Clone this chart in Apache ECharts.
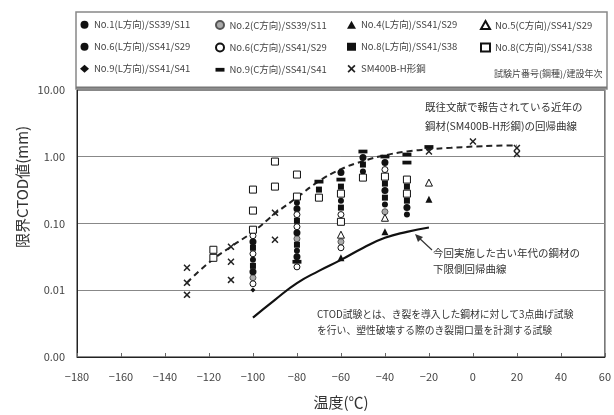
<!DOCTYPE html>
<html><head><meta charset="utf-8">
<script src="https://cdn.jsdelivr.net/npm/echarts@6/dist/echarts.min.js"></script>
<style>html,body{margin:0;padding:0;background:#fff}#c{width:614px;height:415px}</style>
</head><body><div id="c"></div>
<script>
const FONT = '"Noto Sans CJK JP","Noto Sans",sans-serif';

// legend names by column (rows top to bottom)
const legendCol1 = ['No.1(L方向)/SS39/S11', 'No.6(L方向)/SS41/S29', 'No.9(L方向)/SS41/S41'];
const legendCol2 = ['No.2(C方向)/SS39/S11', 'No.6(C方向)/SS41/S29', 'No.9(C方向)/SS41/S41'];
const legendCol3 = ['No.4(L方向)/SS41/S29', 'No.8(L方向)/SS41/S38', 'SM400B-H形鋼'];
const legendCol4 = ['No.5(C方向)/SS41/S29', 'No.8(C方向)/SS41/S38'];
const legendNote = '試験片番号(鋼種)/建設年次';

// measured points: [temperature ℃, critical CTOD mm]
const no1L = [[-100,0.0286],[-80,0.205],[-80,0.0391],[-60,0.22],[-50,0.60],[-40,0.192],[-30,0.136]];
const no2C = [[-100,0.0154],[-80,0.0591],[-60,0.0533],[-40,0.150]];
const no4L = [[-60,0.0306],[-40,0.0753],[-20,0.23]];
const no5C = [[-60,0.068],[-40,0.122],[-20,0.41]];
const no6L = [[-100,0.0533],[-100,0.0189],[-80,0.167],[-80,0.0728],[-80,0.0318],[-60,0.579],[-50,0.973],[-40,0.818],[-40,0.311],[-30,0.173]];
const no6C = [[-100,0.0656],[-100,0.0352],[-100,0.0125],[-80,0.136],[-80,0.0895],[-80,0.0224],[-60,0.136],[-60,0.0433],[-40,0.643]];
const no8L = [[-100,0.0433],[-100,0.0232],[-80,0.110],[-80,0.0481],[-70,0.322],[-60,0.357],[-60,0.173],[-50,0.764],[-40,0.396],[-40,0.244],[-30,0.357],[-30,0.22]];
const no8C = [[-118,0.0404],[-118,0.0306],[-100,0.322],[-100,0.156],[-100,0.0807],[-90,0.847],[-90,0.357],[-80,0.541],[-80,0.253],[-70,0.244],[-60,0.28],[-60,0.106],[-50,0.487],[-40,0.504],[-30,0.455],[-30,0.28]];
const no9L = [[-100,0.0101]];
const no9C = [[-80,0.0267],[-70,0.424],[-60,0.455],[-50,1.197],[-40,1.007],[-30,1.08],[-30,0.818],[-20,1.40]];
const sm400 = [[-130,0.0217],[-130,0.0129],[-130,0.00853],[-110,0.0449],[-110,0.0267],[-110,0.0143],[-90,0.145],[-90,0.0571],[-20,1.2],[0,1.69],[20,1.35],[20,1.1]];

// regression curves
const smFitT = [-130,-120,-110,-100,-90,-80,-70,-60,-50,-40,-30,-20,-10,0,10,20];
const smFitV = [0.013,0.026,0.045,0.075,0.14,0.245,0.43,0.65,0.86,1.05,1.2,1.29,1.36,1.42,1.46,1.48];
const lowFitT = [-100,-90,-80,-70,-60,-50,-40,-30,-20];
const lowFitV = [0.0039,0.0072,0.0128,0.0195,0.0285,0.043,0.061,0.075,0.087];

const XMARK = 'path://M0,1.5L1.5,0L5,3.5L8.5,0L10,1.5L6.5,5L10,8.5L8.5,10L5,6.5L1.5,10L0,8.5L3.5,5Z';
const BAR = 'path://M0,0H12V5H0Z';

function sc(name, data, symbol, size, fill, border) {
  return {
    type: 'scatter', name, data, symbol, symbolSize: size, symbolKeepAspect: true,
    itemStyle: { color: fill, borderColor: border || fill, borderWidth: border ? 1 : 0, opacity: 1 },
    z: 5
  };
}

const chart = echarts.init(document.getElementById('c'), null, { renderer: 'canvas' });
const legendCommon = {
  orient: 'vertical', top: 20, itemGap: 12.5, itemWidth: 9, itemHeight: 8,
  selectedMode: false, padding: 0,
  textStyle: { fontSize: 9.5, color: '#444', fontFamily: FONT }
};
chart.setOption({
  animation: false,
  backgroundColor: '#fff',
  textStyle: { fontFamily: FONT },
  grid: { left: 77, right: 7, top: 90, bottom: 58, show: true, borderColor: '#222', borderWidth: 1 },
  legend: [
    Object.assign({ left: 80, data: legendCol1 }, legendCommon),
    Object.assign({ left: 215, data: legendCol2 }, legendCommon),
    Object.assign({ left: 347, data: legendCol3 }, legendCommon),
    Object.assign({ left: 480, data: legendCol4 }, legendCommon)
  ],
  xAxis: {
    type: 'value', min: -180, max: 60, interval: 20,
    name: '温度(℃)', nameLocation: 'middle', nameGap: 38,
    nameTextStyle: { fontSize: 15, color: '#333', fontFamily: FONT },
    axisLine: { onZero: false, lineStyle: { color: '#222' } },
    axisTick: { inside: true, length: 4, lineStyle: { color: '#666' } },
    axisLabel: { fontSize: 11, color: '#444', margin: 14, formatter: v => v < 0 ? '−' + (-v) : String(v) },
    splitLine: { show: false }
  },
  yAxis: {
    type: 'log', logBase: 10, min: 0.001, max: 10,
    axisLine: { show: true, onZero: false, lineStyle: { color: '#222' } },
    axisTick: { show: false },
    axisLabel: { fontSize: 11, color: '#444', margin: 12, formatter: v => Number(v).toFixed(2) },
    splitLine: { show: true, lineStyle: { color: '#888', width: 1 } }
  },
  series: [
    { type: 'line', name: 'fitSM', data: smFitT.map((t, i) => [t, smFitV[i]]), smooth: true, symbol: 'none',
      lineStyle: { color: '#222', width: 2, type: [6, 4] }, z: 3, silent: true },
    { type: 'line', name: 'fitLow', data: lowFitT.map((t, i) => [t, lowFitV[i]]), smooth: true, symbol: 'none',
      lineStyle: { color: '#111', width: 2.2 }, z: 3, silent: true },
    sc(legendCol1[0], no1L, 'circle', 6, '#111'),
    sc(legendCol2[0], no2C, 'circle', 6, '#aaa', '#555'),
    sc(legendCol3[0], no4L, 'triangle', 7, '#111'),
    sc(legendCol4[0], no5C, 'triangle', 7, '#fff', '#111'),
    sc(legendCol1[1], no6L, 'circle', 7, '#111'),
    sc(legendCol2[1], no6C, 'circle', 6, '#fff', '#111'),
    sc(legendCol3[1], no8L, 'rect', 6, '#111'),
    sc(legendCol4[1], no8C, 'rect', 7, '#fff', '#111'),
    sc(legendCol1[2], no9L, 'diamond', 5, '#111'),
    sc(legendCol2[2], no9C, BAR, 9, '#111'),
    sc(legendCol3[2], sm400, XMARK, 7, '#222')
  ],
  graphic: [
    { type: 'rect', shape: { x: 76, y: 12, width: 531, height: 77 }, style: { fill: 'none', stroke: '#888', lineWidth: 1.5 }, z: 1 },
    { type: 'line', shape: { x1: 76, y1: 87.5, x2: 607, y2: 87.5 }, style: { stroke: '#777', lineWidth: 2 }, z: 1 },
    { type: 'text', x: 494, y: 74, style: { text: legendNote, fontSize: 9, fill: '#444', fontFamily: FONT, textVerticalAlign: 'middle' } },
    { type: 'text', x: 22, y: 187, rotation: Math.PI / 2,
      style: { text: '限界CTOD値(mm)', fontSize: 15, fill: '#333', fontFamily: FONT, textAlign: 'center', textVerticalAlign: 'middle' } },
    { type: 'text', x: 425, y: 98, style: { text: '既往文献で報告されている近年の\n鋼材(SM400B-H形鋼)の回帰曲線', fontSize: 10.5, lineHeight: 19, fill: '#333', fontFamily: FONT } },
    { type: 'text', x: 433, y: 245, style: { text: '今回実施した古い年代の鋼材の\n下限側回帰曲線', fontSize: 10.5, lineHeight: 16, fill: '#333', fontFamily: FONT } },
    { type: 'text', x: 317, y: 306, style: { text: 'CTOD試験とは、き裂を導入した鋼材に対して3点曲げ試験\nを行い、塑性破壊する際のき裂開口量を計測する試験', fontSize: 9.8, lineHeight: 16, fill: '#333', fontFamily: FONT } },
    { type: 'line', shape: { x1: 432, y1: 250, x2: 417, y2: 236 }, style: { stroke: '#333', lineWidth: 1.2 } },
    { type: 'polygon', shape: { points: [[415, 234], [423, 237], [418, 242]] }, style: { fill: '#333' } }
  ]
});
</script></body></html>
